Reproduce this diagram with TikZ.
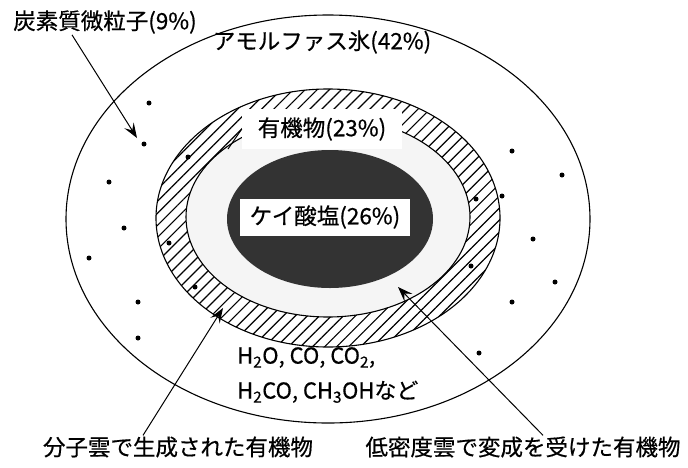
\documentclass[tikz,border=0pt]{standalone}
\usepackage{fontspec}
\setmainfont{Noto Sans CJK JP}[UprightFeatures={FakeBold=0.5}]
\usepackage{tikz}
\usetikzlibrary{arrows.meta}
\usetikzlibrary{patterns.meta}

\begin{document}
\begin{tikzpicture}[
  x=1pt, y=-1pt,
  every node/.style={font=\fontsize{22.5}{26}\selectfont, inner sep=1pt},
  rim/.style={line width=1.1pt},
  hatch/.style={pattern={Lines[angle=45, distance=8.5pt, line width=1.2pt]}},
  grain/.style={circle, fill=black, minimum size=5pt, inner sep=0pt},
  pointer/.style={line width=1pt, -{Stealth[length=15pt, width=11pt, inset=6pt]}},
  tag/.style={fill=white, inner xsep=6pt}
]
\useasboundingbox (0,0) rectangle (688,467);

% ice mantle
\draw[rim] (328,219) ellipse [x radius=262, y radius=204];

% organic ring
\fill[gray!8] (328,217) ellipse [x radius=142, y radius=100];
\fill[hatch, even odd rule]
  (328,218) ellipse [x radius=172, y radius=129]
  (328,217) ellipse [x radius=142, y radius=100];
\draw[rim] (328,218) ellipse [x radius=172, y radius=129];
\draw[rim] (328,217) ellipse [x radius=142, y radius=100];

% silicate core
\fill[black!80] (330,219) ellipse [x radius=103, y radius=69];

% carbon grains
\foreach \p/\q in {149/103, 144/144, 109/182, 124/228, 89/258, 138/302, 138/338,
                   512/151, 562/175, 533/239, 555/282, 512/302, 479/353,
                   188/157, 169/243, 195/287, 476/199, 502/196, 471/266}
  \node[grain] at (\p,\q) {};

\node[tag, minimum width=170pt, minimum height=37pt] (core) at (325,217) {ケイ酸塩(26\%)};
\node[tag, minimum width=160pt, minimum height=40pt] (org) at (322,129) {有機物(23\%)};
\node (ice) at (322,42) {アモルファス氷(42\%)};
\node (carbon) at (105,22) {炭素質微粒子(9\%)};
\node[anchor=north west, align=left, font=\fontsize{22}{35}\selectfont] (gas) at (236,346)
  {H\textsubscript{2}O, CO, CO\textsubscript{2},\\H\textsubscript{2}CO, CH\textsubscript{3}OHなど};
\node (made) at (178,447) {分子雲で生成された有機物};
\node (proc) at (523,447) {低密度雲で変成を受けた有機物};

\coordinate (grainhit) at (137,138);
\coordinate (ringhit) at (223,308);
\coordinate (innerhit) at (398,287);
\coordinate (orgend) at (228,149);

\draw[pointer] ([xshift=-33pt]carbon.south) -- (grainhit);
\draw[pointer] ([xshift=-35pt]made.north) -- (ringhit);
\draw[pointer] ([xshift=20pt]proc.north) -- (innerhit);
\draw[line width=1pt] (org.west) -- (orgend);
\end{tikzpicture}
\end{document}
